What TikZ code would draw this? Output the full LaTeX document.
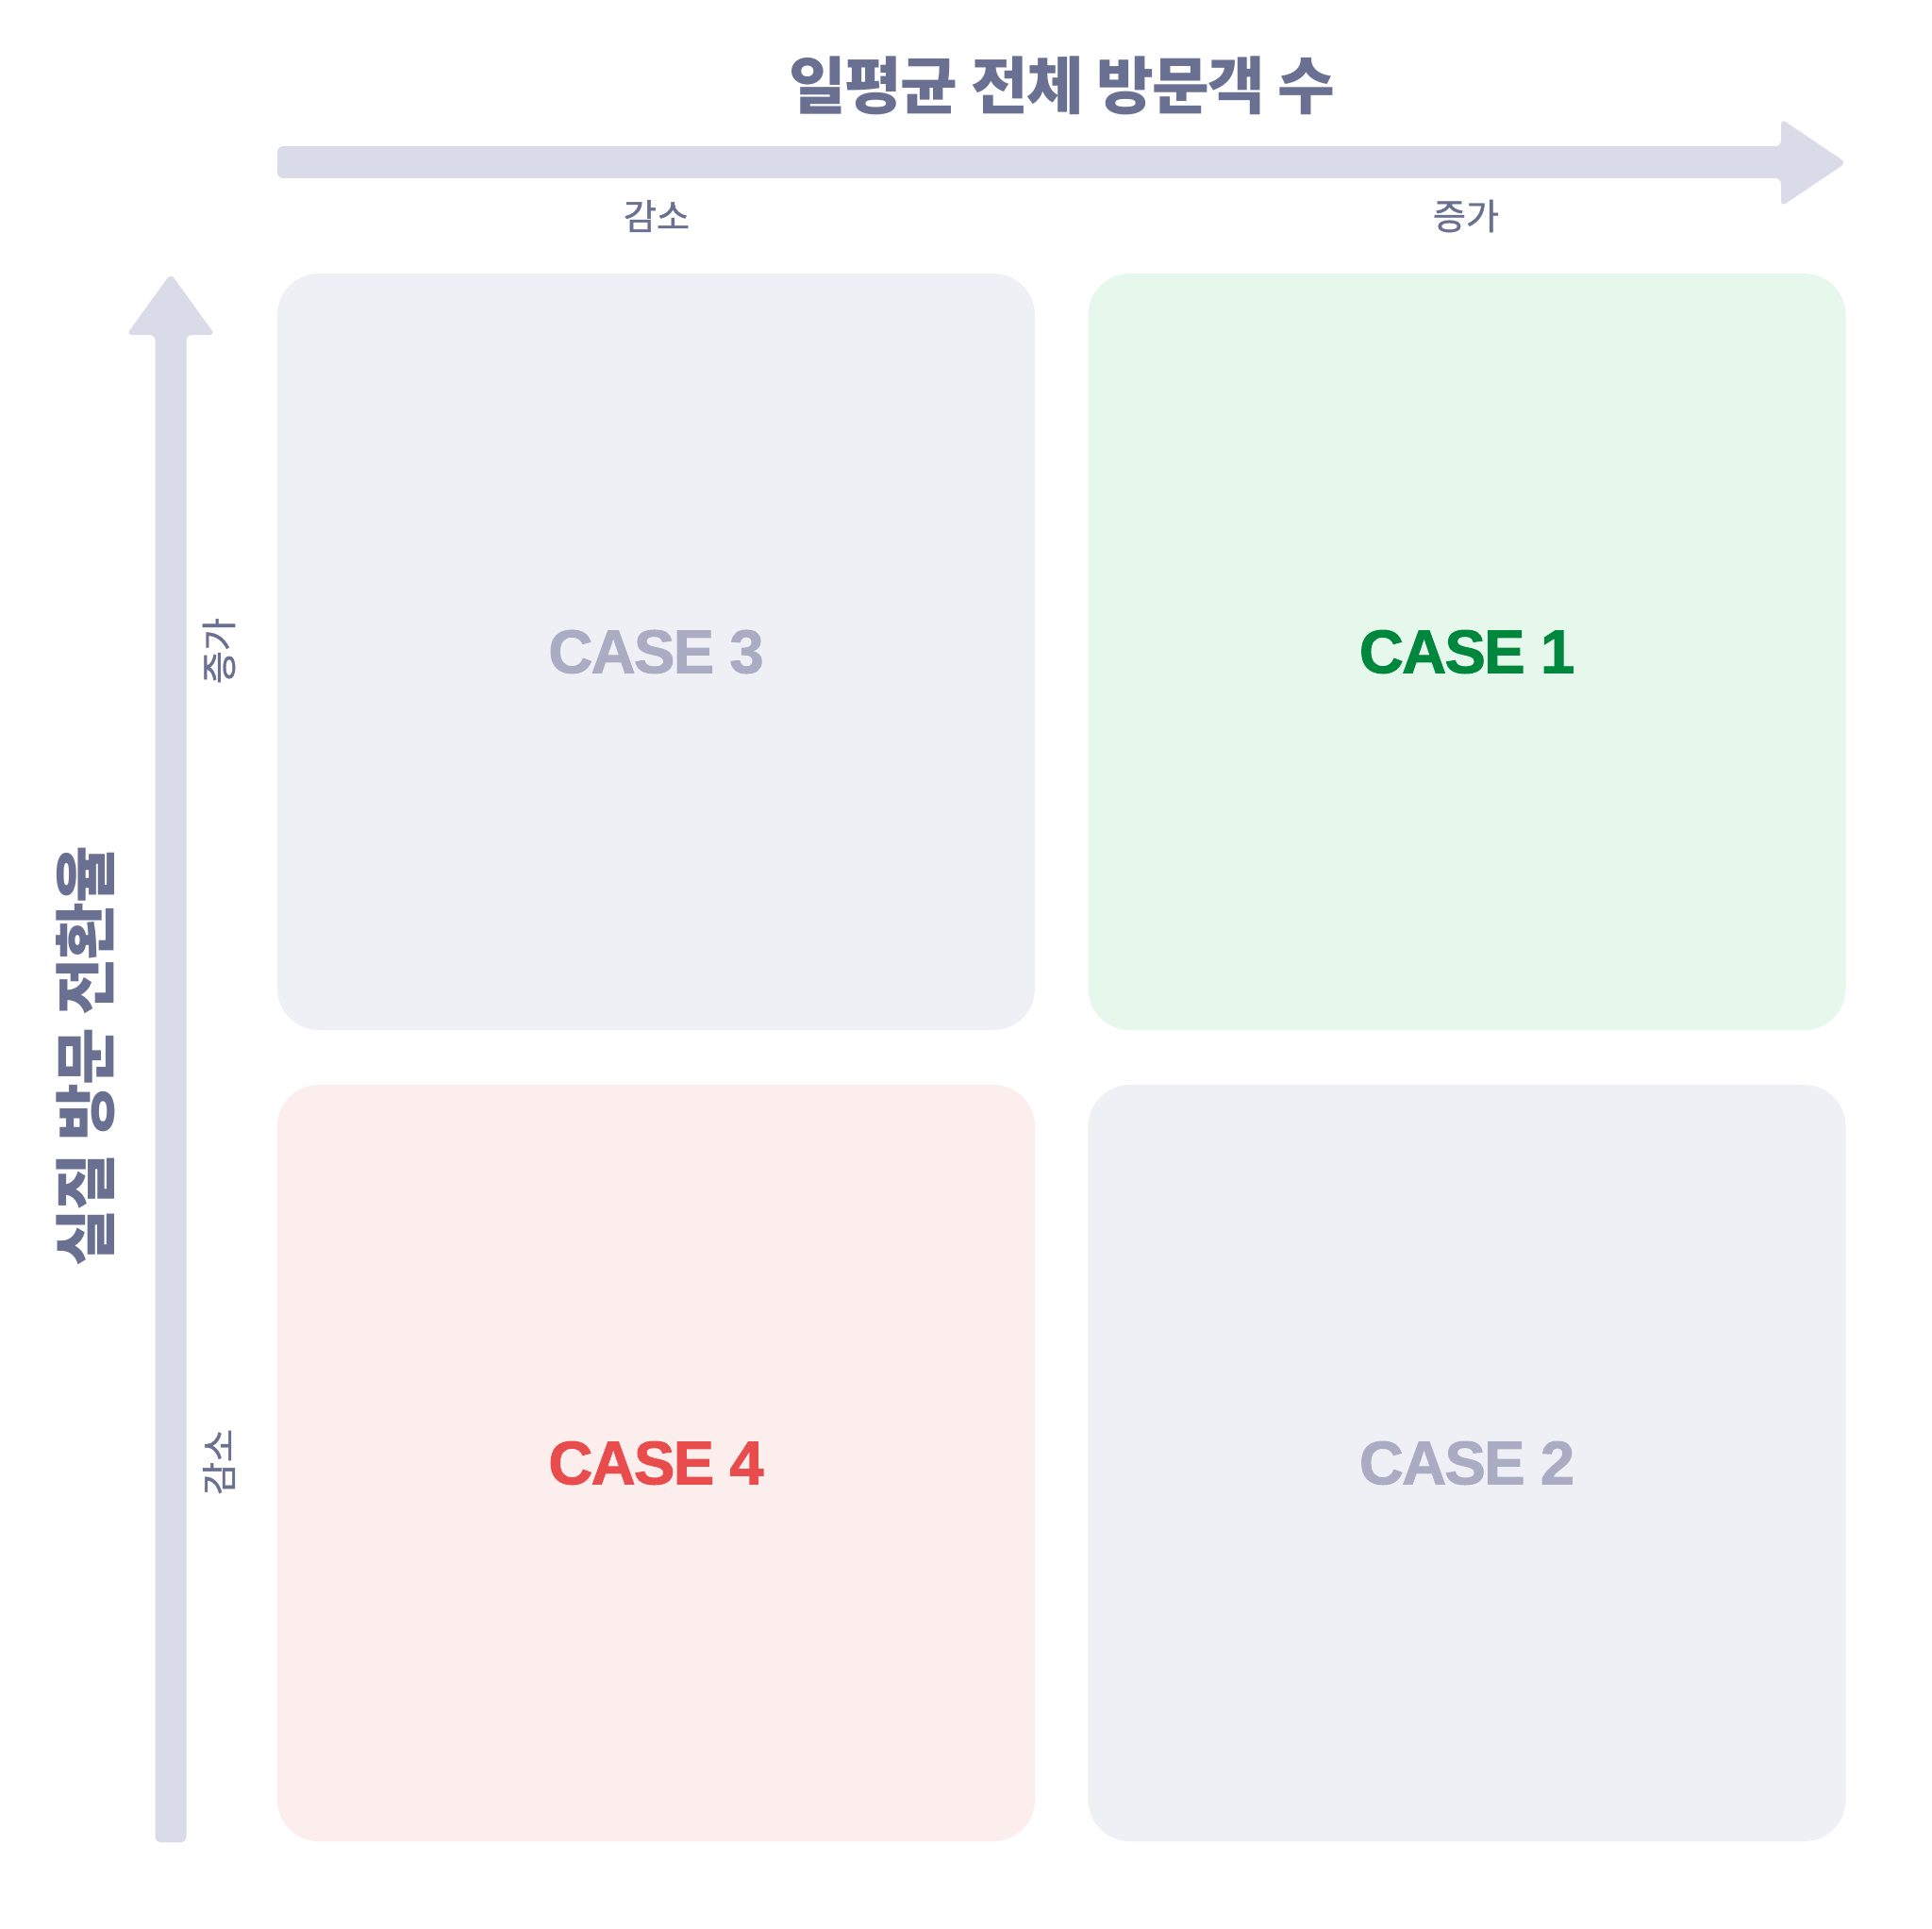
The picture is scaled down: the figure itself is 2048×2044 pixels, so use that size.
\documentclass[tikz,border=0pt]{standalone}
\usepackage{fontspec}
\setmainfont{Liberation Sans}
\newfontfamily\casefont[LetterSpace=-2.5,FakeBold=1.5]{Liberation Sans Bold}
\newfontfamily\kr{Noto Sans CJK KR}
\newfontfamily\krt[LetterSpace=-2.5]{Noto Sans CJK KR}
\newfontfamily\krm[FakeBold=1.2]{Noto Sans CJK KR}
\definecolor{titlec}{HTML}{6A7091}
\definecolor{labelc}{HTML}{6A7091}
\definecolor{arrowc}{HTML}{D9DBE8}
\definecolor{boxgray}{HTML}{EFF0F5}
\definecolor{boxgreen}{HTML}{E6F8EC}
\definecolor{boxred}{HTML}{FDEEEE}
\definecolor{txtgray}{HTML}{AAACC4}
\definecolor{txtgreen}{HTML}{00873E}
\definecolor{txtred}{HTML}{E84C4C}
\begin{document}
\begin{tikzpicture}[x=0.5pt,y=-0.5pt,
  quad/.style={rounded corners=22pt, minimum width=401.5pt, minimum height=401pt, inner sep=0pt,
    font=\casefont\fontsize{32.5}{36}\selectfont},
  axistitle/.style={text=titlec, inner sep=0pt, font=\krt\fontsize{33}{36}\selectfont\bfseries},
  axislabel/.style={text=labelc, inner sep=0pt, font=\krm\fontsize{19}{22}\selectfont},
  arrowshape/.style={fill=arrowc, rounded corners=3pt}]
\useasboundingbox (0,0) rectangle (2048,2044);
\fill[white] (0,0) rectangle (2048,2044);
% arrows
\fill[arrowshape] (294,155) -- (1888,155) -- (1888,126) -- (1957,172.5) -- (1888,219) -- (1888,189) -- (294,189) -- cycle;
\fill[arrowshape] (164.5,1953) -- (164.5,355) -- (134,355) -- (181,290) -- (228,355) -- (197.5,355) -- (197.5,1953) -- cycle;
% titles
\node[axistitle] (xt) at (1126,91) {일평균 전체 방문객 수};
\node[axistitle, rotate=90] (yt) at (91,1120) {실질 방문 전환율};
% labels
\node[axislabel] (xl1) at (696,229) {감소};
\node[axislabel] (xl2) at (1554,229) {증가};
\node[axislabel, rotate=90] (yl1) at (232,690) {증가};
\node[axislabel, rotate=90] (yl2) at (232,1550) {감소};
% quadrants
\node[quad, fill=boxgray, text=txtgray] (q3) at (695.5,691) {CASE 3};
\node[quad, fill=boxgreen, text=txtgreen] (q1) at (1555,691) {CASE 1};
\node[quad, fill=boxred, text=txtred] (q4) at (695.5,1551) {CASE 4};
\node[quad, fill=boxgray, text=txtgray] (q2) at (1555,1551) {CASE 2};
\end{tikzpicture}
\end{document}
